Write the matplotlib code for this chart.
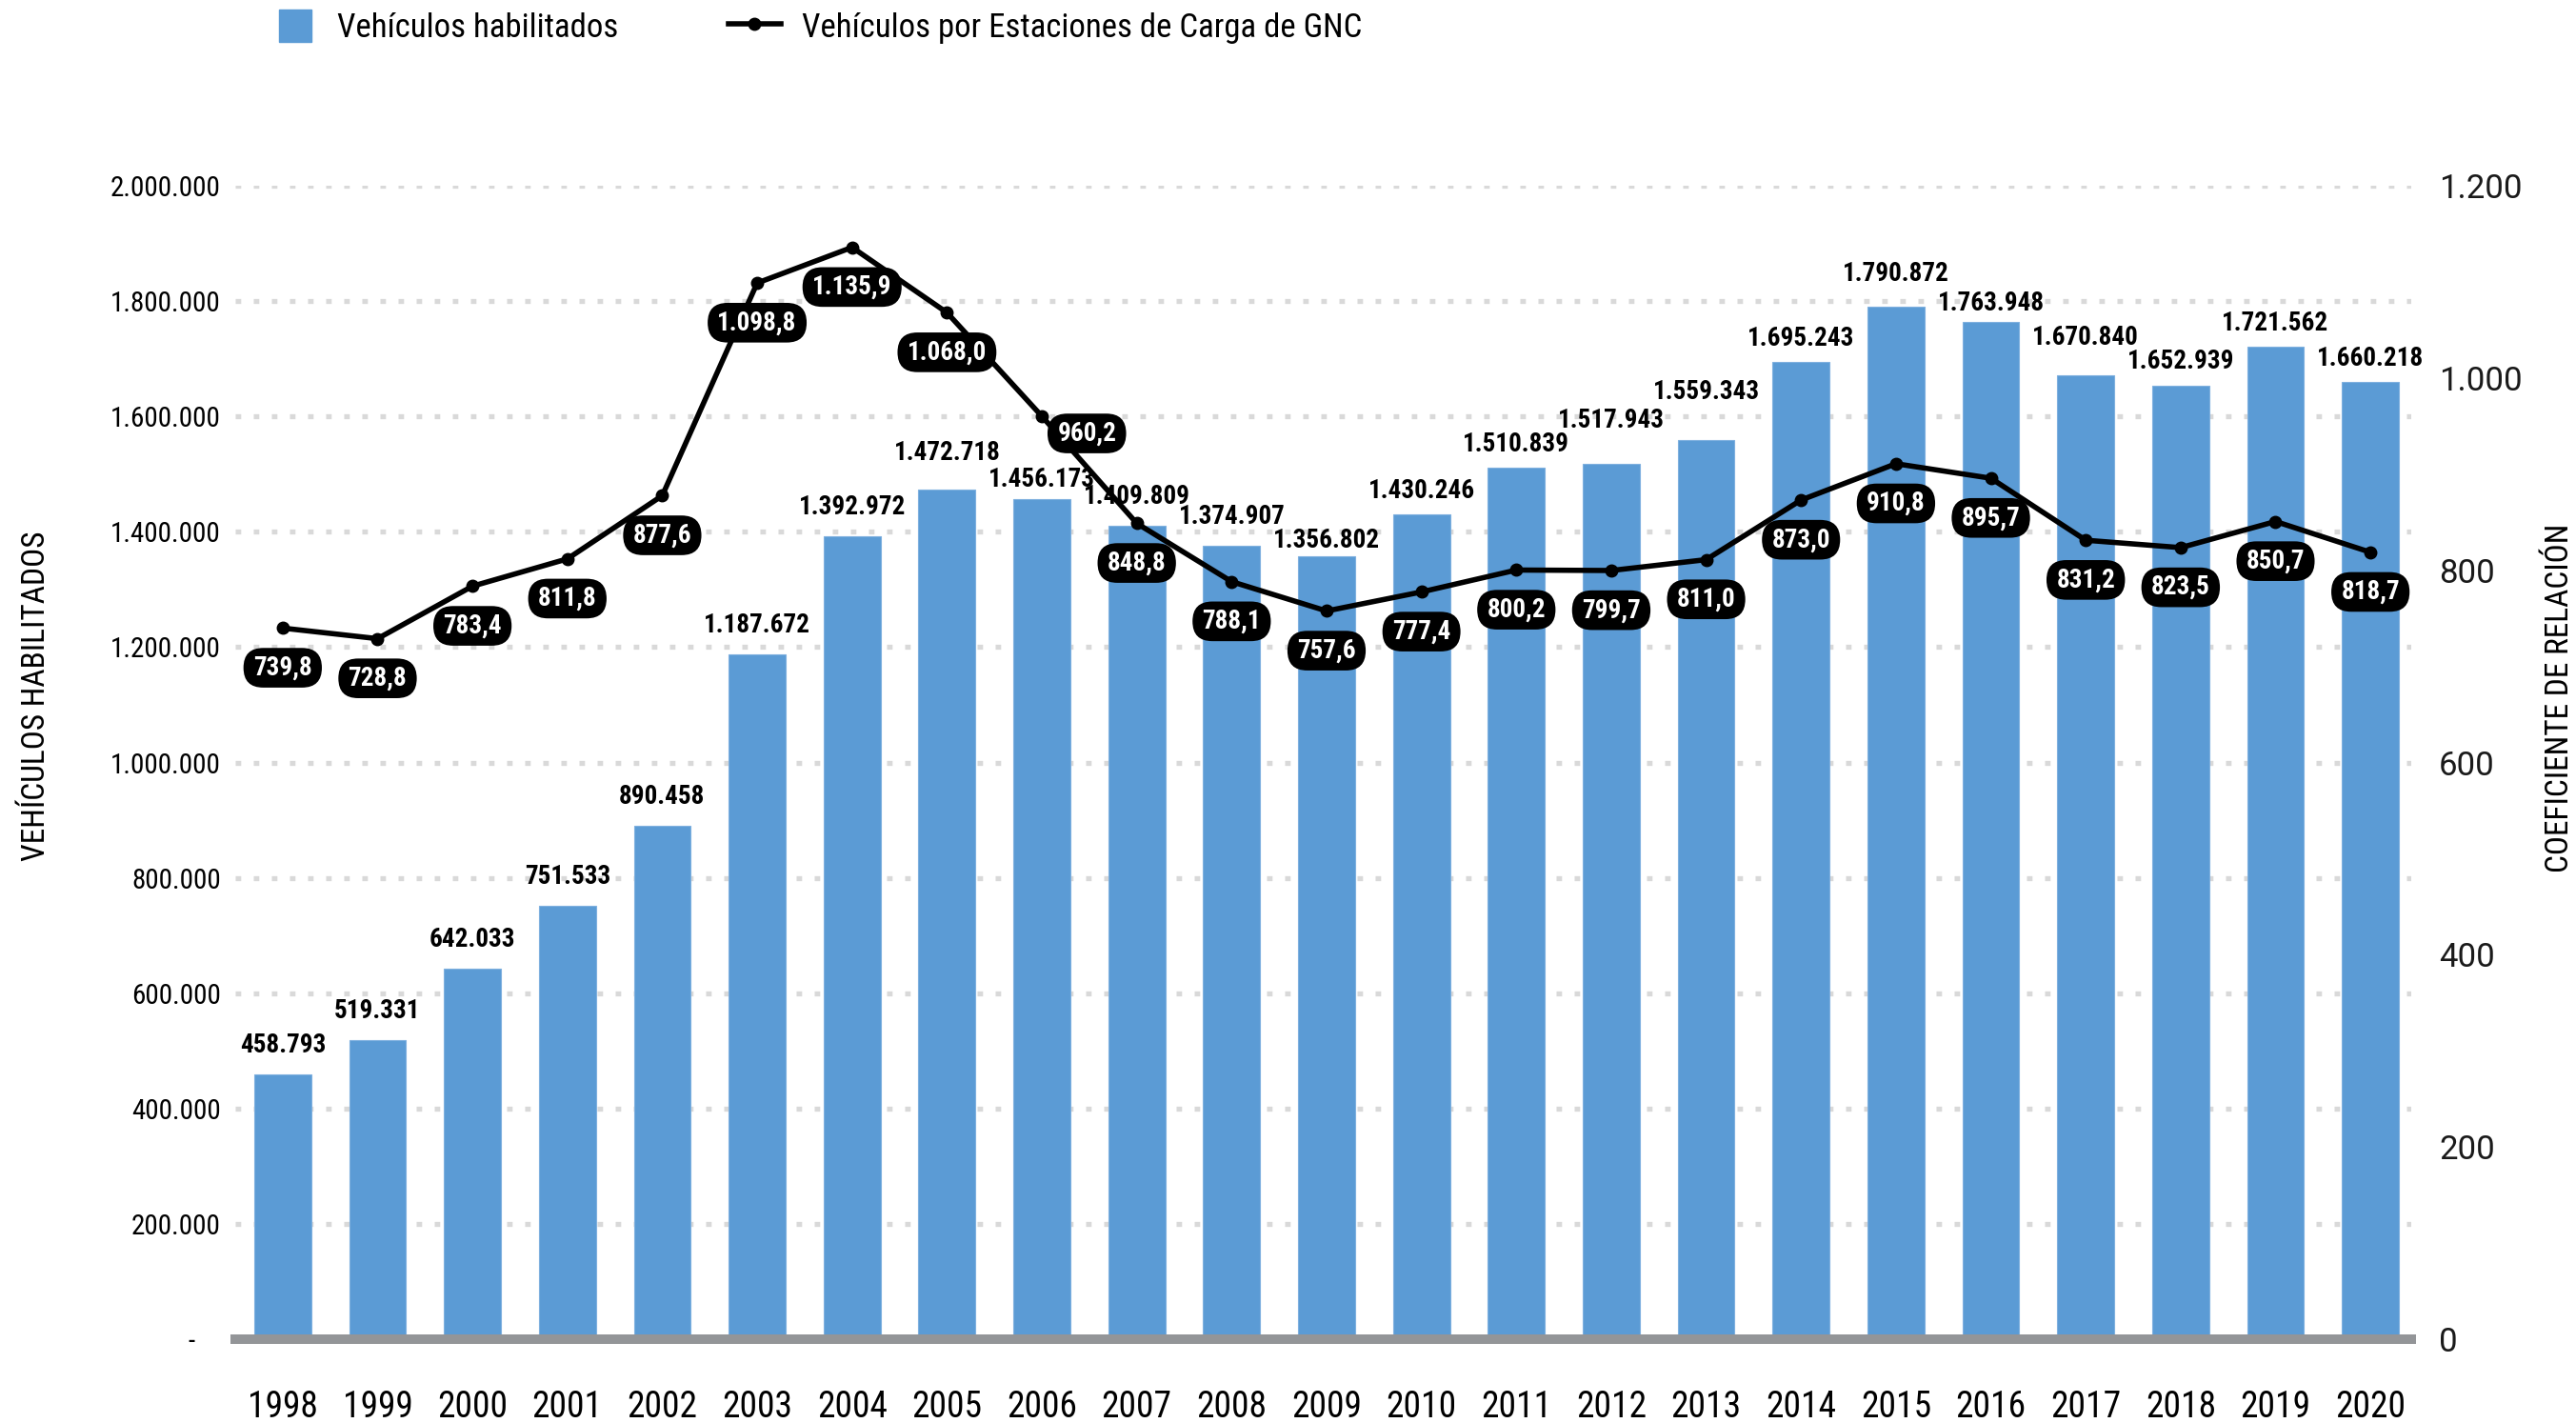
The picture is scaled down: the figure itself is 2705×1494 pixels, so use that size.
import numpy as np
import matplotlib
matplotlib.use("Agg")
import matplotlib.pyplot as plt
from matplotlib import font_manager
from matplotlib.lines import Line2D
from matplotlib.patches import Patch, Rectangle, BoxStyle
from matplotlib.legend_handler import HandlerPatch, HandlerLine2D

years = ['1998', '1999', '2000', '2001', '2002', '2003', '2004', '2005', '2006', '2007', '2008',
         '2009', '2010', '2011', '2012', '2013', '2014', '2015', '2016', '2017', '2018', '2019', '2020']
vehiculos = [458793, 519331, 642033, 751533, 890458, 1187672, 1392972, 1472718, 1456173, 1409809,
             1374907, 1356802, 1430246, 1510839, 1517943, 1559343, 1695243, 1790872, 1763948,
             1670840, 1652939, 1721562, 1660218]
coeficiente = [739.8, 728.8, 783.4, 811.8, 877.6, 1098.8, 1135.9, 1068.0, 960.2, 848.8, 788.1,
               757.6, 777.4, 800.2, 799.7, 811.0, 873.0, 910.8, 895.7, 831.2, 823.5, 850.7, 818.7]
left_ticks = [0, 200000, 400000, 600000, 800000, 1000000, 1200000, 1400000, 1600000, 1800000, 2000000]
right_ticks = [0, 200, 400, 600, 800, 1000, 1200]

# condensed face like the original (Roboto Condensed if present)
names = {f.name for f in font_manager.fontManager.ttflist}
cond = 'Roboto'
for cand in ['Roboto Condensed', 'Barlow Semi Condensed', 'Archivo Narrow']:
    if cand in names:
        cond = cand
        break
plt.rcParams['font.family'] = [cond, 'DejaVu Sans']

BLUE = '#5B9BD5'

# gap (px) between bar top and its value label, labels were nudged by hand in the original
bar_gap = {'2005': 31, '2006': 13, '2009': 9, '2010': 17, '2011': 17, '2012': 38, '2013': 43,
           '2014': 17, '2015': 27, '2016': 12, '2017': 32, '2018': 18, '2019': 17, '2020': 17}
# offset (pt) of the line labels from their point
line_off = {'2006': (34, -13)}


def miles(v):
    return f"{v:,}".replace(",", ".")


def coef_fmt(v):
    s = f"{v:,.1f}"
    return s.replace(",", "X").replace(".", ",").replace("X", ".")


def pill(x0, y0, width, height, mutation_size):
    padx = 0.38 * mutation_size
    pady = 0.27 * mutation_size
    h = height + 2 * pady
    r = 0.5 * h / mutation_size
    return BoxStyle.Round(pad=0, rounding_size=r)(x0 - padx, y0 - pady, width + 2 * padx, h, mutation_size)


W, H = 2705, 1494
fig = plt.figure(figsize=(W / 100, H / 100), dpi=100)
ax = fig.add_axes([247 / W, 1 - 1406 / H, (2532 - 247) / W, (1406 - 195) / H])

x = np.arange(len(years))
ax.bar(x, vehiculos, width=0.6, color=BLUE, edgecolor='#7fb0df', linewidth=0.8, zorder=2)
ax.set_xlim(-0.5, len(years) - 0.57)
ax.set_ylim(0, 2000000)
ax.set_axisbelow(True)
ax.set_yticks(left_ticks)
ax.set_yticklabels(['-    '] + [miles(t) for t in left_ticks[1:]])
ax.yaxis.grid(True, color='#d9d9d9', lw=3.8, linestyle=(0, (1.1, 2.5)))
ax.set_xticks(x)
ax.set_xticklabels(years)
ax.tick_params(axis='y', length=0, pad=11, labelsize=21)
ax.tick_params(axis='x', length=0, pad=38, labelsize=27)
for s in ax.spines.values():
    s.set_visible(False)
ax.axhline(0, color='#939598', lw=7.2, zorder=3, clip_on=False)

for xi, yr, v in zip(x, years, vehiculos):
    gap = bar_gap.get(yr, 23) * 0.72
    ax.annotate(miles(v), (xi, v), xytext=(0, gap), textcoords='offset points',
                ha='center', va='baseline', fontsize=19.5, fontweight='bold', zorder=4)

ax2 = ax.twinx()
ax2.set_ylim(0, 1200)
ax2.set_yticks(right_ticks)
ax2.set_yticklabels([miles(t) for t in right_ticks], family='Roboto')
ax2.tick_params(axis='y', length=0, pad=21, labelsize=25, labelcolor='#1a1a1a')
for s in ax2.spines.values():
    s.set_visible(False)
ax2.plot(x, coeficiente, color='black', lw=4, marker='o', ms=9, zorder=5)

for xi, yr, v in zip(x, years, coeficiente):
    ax2.annotate(coef_fmt(v), (xi, v), xytext=line_off.get(yr, (0, -30)), textcoords='offset points',
                 ha='center', va='center', color='white', fontsize=19.5, fontweight='bold', zorder=6,
                 bbox=dict(boxstyle=pill, fc='black', ec='none'))

fig.text(38 / W, 1 - 731 / H, 'VEHÍCULOS HABILITADOS', rotation=90, ha='center', va='center', fontsize=24)
fig.text(2688 / W, 1 - 733 / H, 'COEFICIENTE DE RELACIÓN', rotation=90, ha='center', va='center', fontsize=24)


def square(legend, orig_handle, xdescent, ydescent, width, height, fontsize):
    return Rectangle((-xdescent, -ydescent), height, height)


class LongLine(HandlerLine2D):
    # line handle reaching further left than the square handle
    def create_artists(self, legend, orig_handle, xdescent, ydescent, width, height, fontsize, trans):
        return super().create_artists(legend, orig_handle, xdescent + 12, ydescent, width + 12,
                                      height, fontsize, trans)


handles = [Patch(color=BLUE), Line2D([], [], color='black', lw=4, marker='o', ms=9)]
labels = ['Vehículos habilitados', 'Vehículos por Estaciones de Carga de GNC']
fig.legend(handles, labels, loc='center left', bbox_to_anchor=(293 / W, 1 - 28 / H), ncol=2,
           frameon=False, fontsize=25, handlelength=1.1, handleheight=1.15, handletextpad=0.66,
           columnspacing=3.8, borderaxespad=0, borderpad=0,
           handler_map={Patch: HandlerPatch(patch_func=square), Line2D: LongLine()})

fig.savefig('out.png', dpi=100)
